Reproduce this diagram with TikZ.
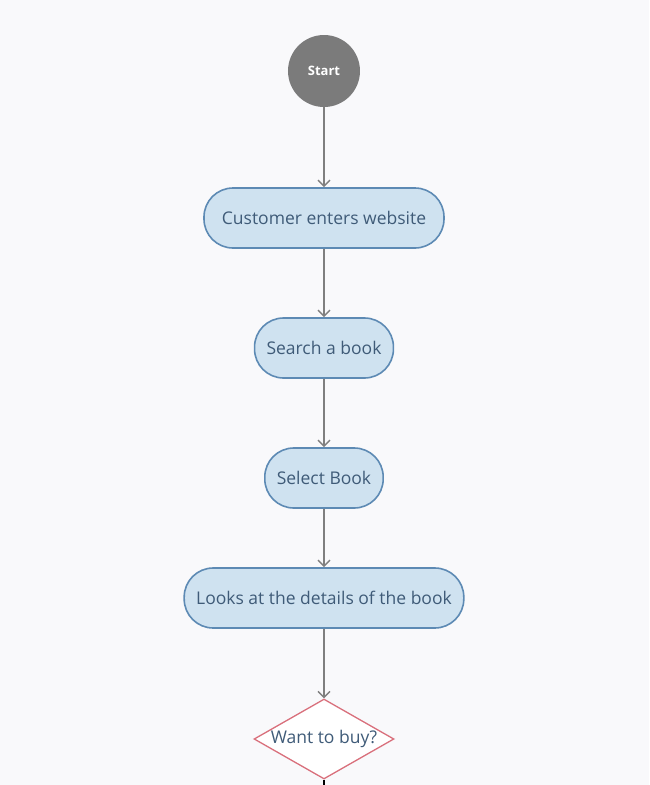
\documentclass[tikz,border=0pt]{standalone}
\usepackage{fontspec}
\setmainfont{Open Sans}
\usetikzlibrary{shapes.geometric, arrows.meta, positioning}
\definecolor{bgcol}{HTML}{F9F9FB}
\definecolor{boxfill}{HTML}{CFE2F0}
\definecolor{boxline}{HTML}{5D8AB4}
\definecolor{boxtext}{HTML}{3F5B78}
\definecolor{startcol}{HTML}{7B7B7B}
\definecolor{arrowcol}{HTML}{7F7F7F}
\definecolor{decline}{HTML}{D9707C}
\tikzstyle{startnode} = [circle, fill=startcol, minimum size=72pt, inner sep=0pt,
    text=white, font=\fontsize{13}{15}\selectfont\bfseries]
\tikzstyle{activity} = [rectangle, draw=boxline, fill=boxfill, line width=1.6pt,
    rounded corners=29pt, minimum height=60pt, inner xsep=12pt,
    text=boxtext, font=\fontsize{17.5}{20}\selectfont]
\tikzstyle{decision} = [diamond, aspect=1.75, draw=decline, fill=white, line width=1.3pt,
    minimum width=140pt, minimum height=80pt, inner sep=0pt,
    text=boxtext, font=\fontsize{17.5}{20}\selectfont]
\tikzstyle{line} = [draw=arrowcol, line width=1.4pt, -{Straight Barb[length=6pt, width=12pt]}]
\begin{document}
\begin{tikzpicture}[node distance=130pt]
        % Background
        \fill [bgcol] (-324pt,71pt) rectangle (325pt,-714pt);
        \useasboundingbox (-324pt,71pt) rectangle (325pt,-714pt);
        % Place nodes
        \node [startnode] (start) {Start};
        \node [activity, below of=start, node distance=147pt, minimum width=240pt] (enter) {Customer enters website};
        \node [activity, below of=enter] (search) {Search a book};
        \node [activity, below of=search] (select) {Select Book};
        \node [activity, below of=select, node distance=120pt] (details) {Looks at the details of the book};
        \node [decision, below of=details, node distance=141pt] (buy) {Want to buy?};
        \coordinate [below of=buy, node distance=60pt] (next);
        % Draw edges
        \path [line] (start) -- (enter);
        \path [line] (enter) -- (search);
        \path [line] (search) -- (select);
        \path [line] (select) -- (details);
        \path [line] (details) -- (buy);
        \draw [black, line width=1.6pt] (buy) -- (next);
\end{tikzpicture}
\end{document}
